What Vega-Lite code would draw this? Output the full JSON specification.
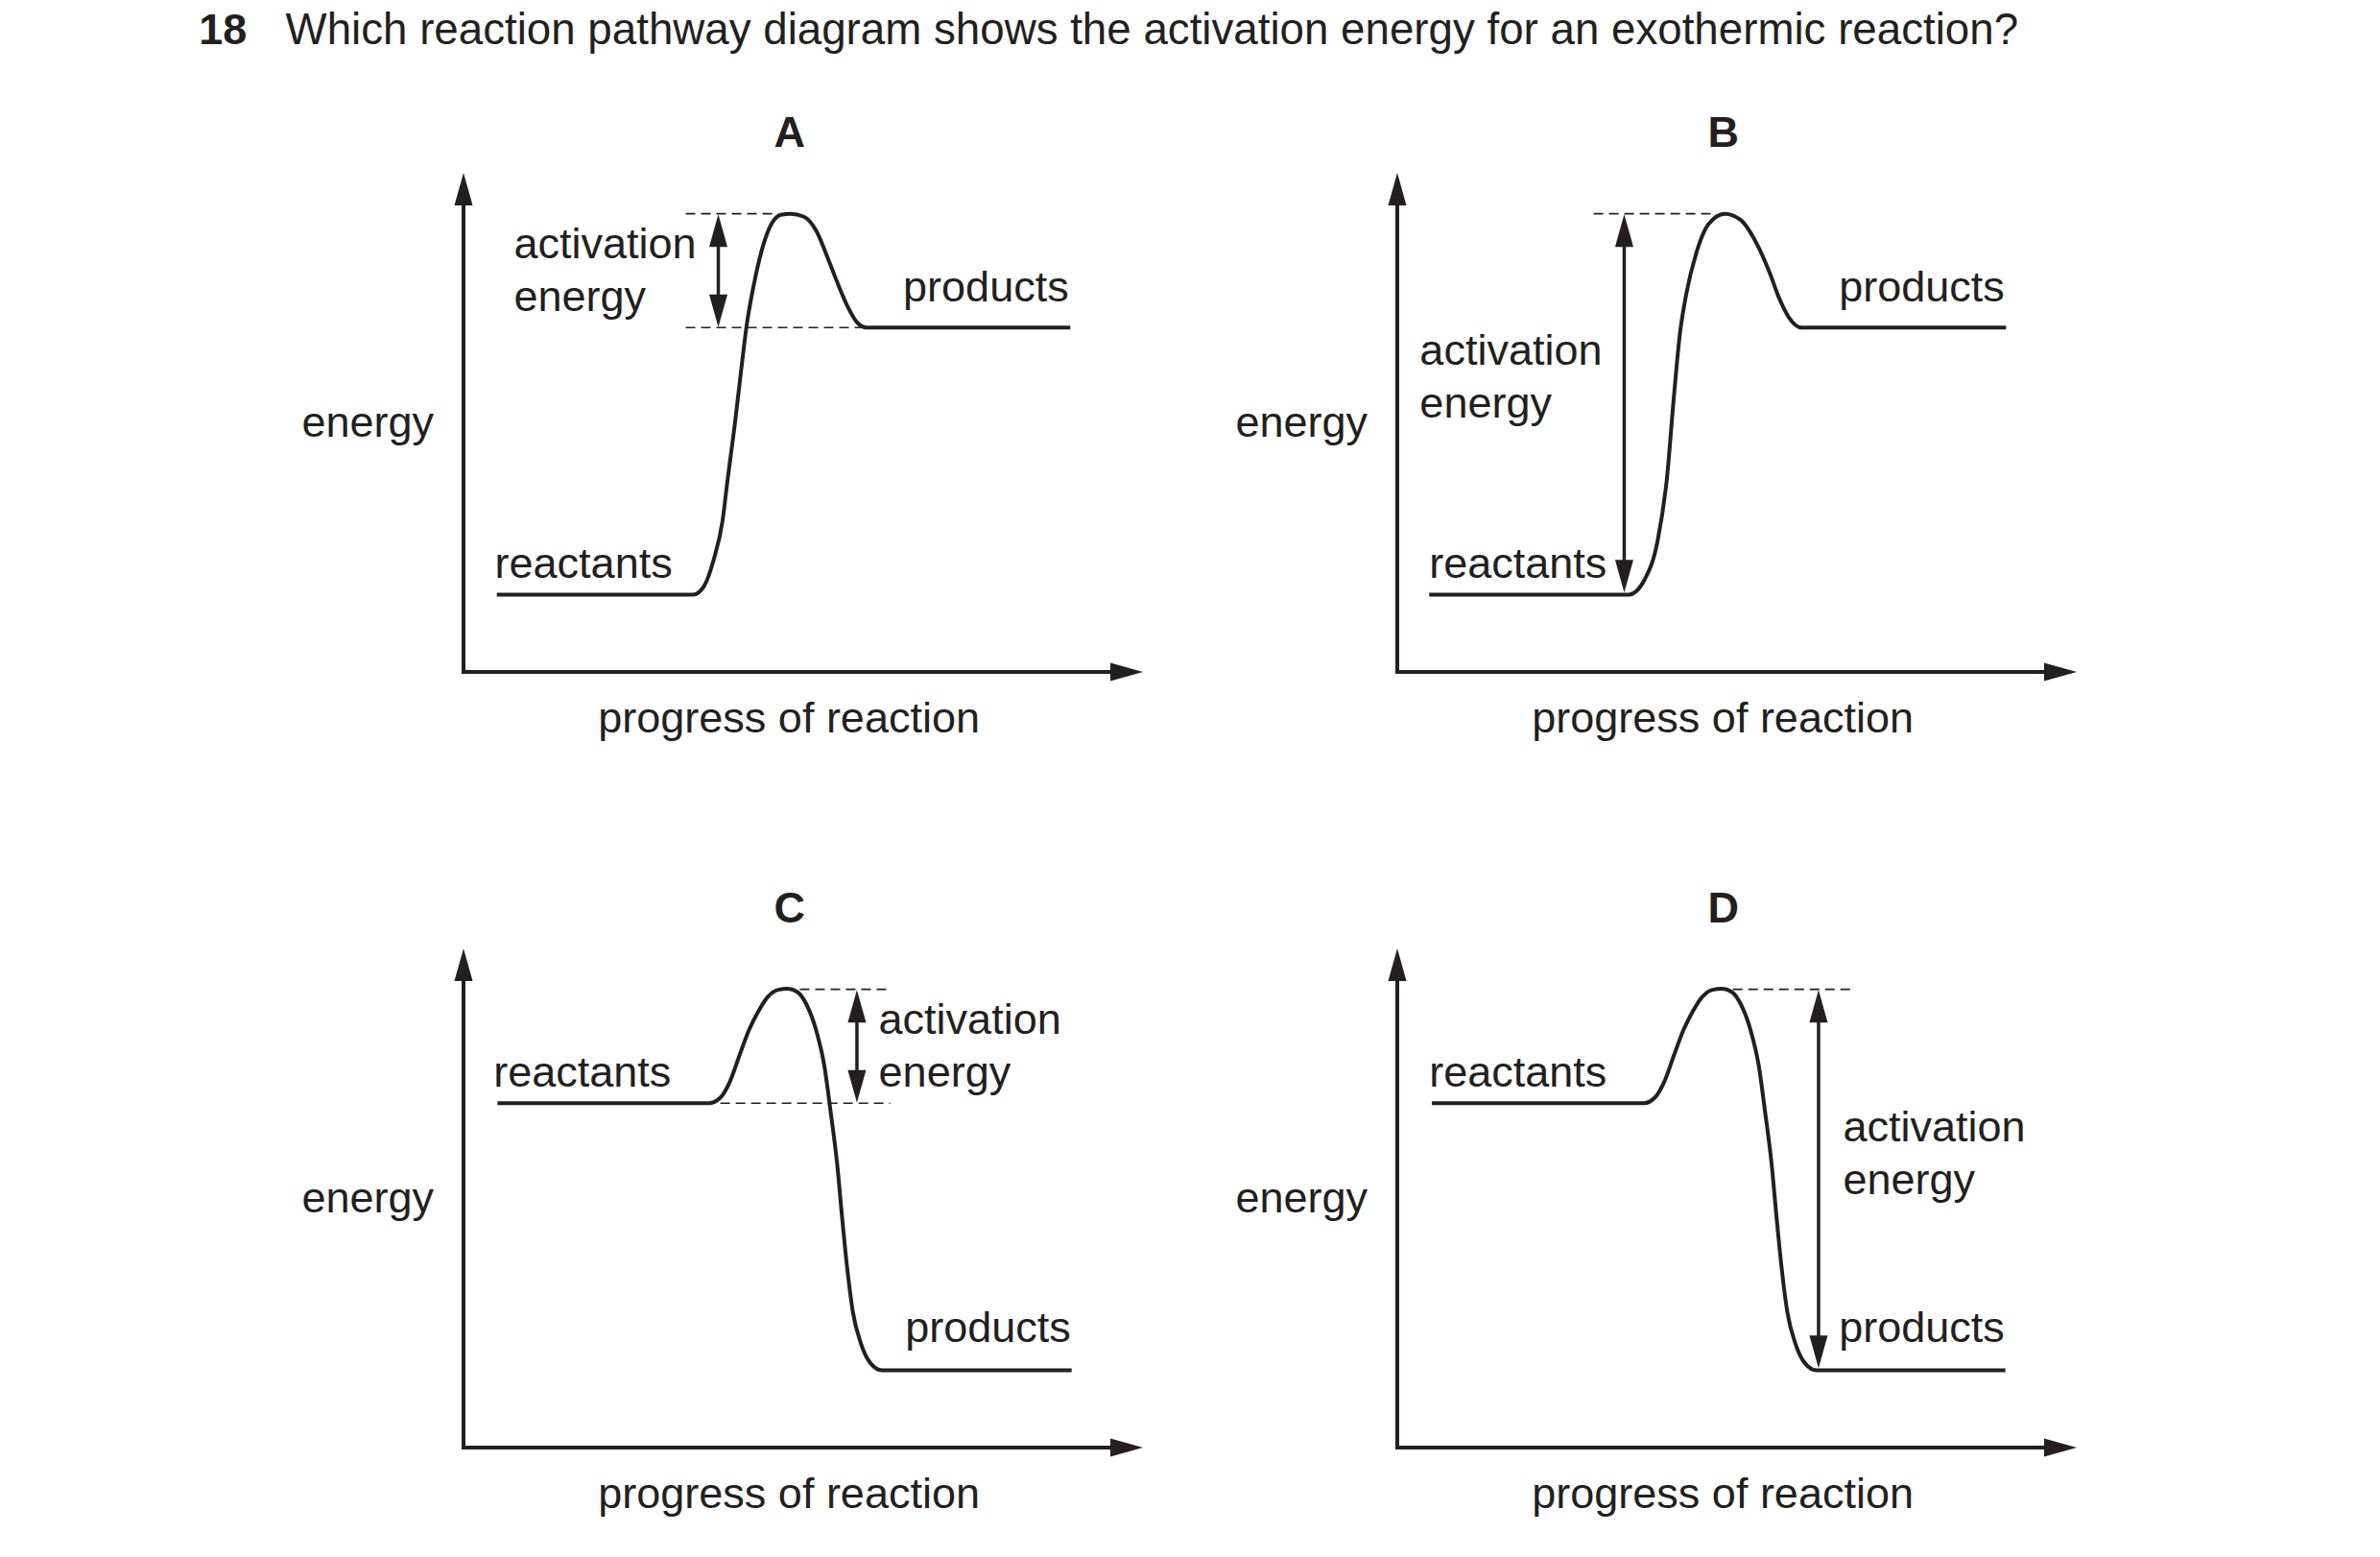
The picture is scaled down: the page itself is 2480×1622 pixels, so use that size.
{
  "$schema": "https://vega.github.io/schema/vega-lite/v6.json",
  "background": "white",
  "padding": {"left": 207, "top": 9, "right": 10, "bottom": 10},
  "bounds": "flush",
  "spacing": {"row": 288, "column": 265},
  "columns": 2,
  "data": {
    "values": [
      {"kind": "axis", "panel": "A", "p": 0, "e": 0, "p2": 0, "e2": 96},
      {"kind": "axis", "panel": "A", "p": 0, "e": 0, "p2": 97, "e2": 0},
      {"kind": "axis", "panel": "B", "p": 0, "e": 0, "p2": 0, "e2": 96},
      {"kind": "axis", "panel": "B", "p": 0, "e": 0, "p2": 97, "e2": 0},
      {"kind": "axis", "panel": "C", "p": 0, "e": 0, "p2": 0, "e2": 96},
      {"kind": "axis", "panel": "C", "p": 0, "e": 0, "p2": 97, "e2": 0},
      {"kind": "axis", "panel": "D", "p": 0, "e": 0, "p2": 0, "e2": 96},
      {"kind": "axis", "panel": "D", "p": 0, "e": 0, "p2": 97, "e2": 0},

      {"kind": "head", "panel": "A", "p": 0, "e": 100, "dir": "up"},
      {"kind": "head", "panel": "A", "p": 100, "e": 0, "dir": "right"},
      {"kind": "head", "panel": "B", "p": 0, "e": 100, "dir": "up"},
      {"kind": "head", "panel": "B", "p": 100, "e": 0, "dir": "right"},
      {"kind": "head", "panel": "C", "p": 0, "e": 100, "dir": "up"},
      {"kind": "head", "panel": "C", "p": 100, "e": 0, "dir": "right"},
      {"kind": "head", "panel": "D", "p": 0, "e": 100, "dir": "up"},
      {"kind": "head", "panel": "D", "p": 100, "e": 0, "dir": "right"},

      {"kind": "head", "panel": "A", "p": 37.5, "e": 91.7, "dir": "up"},
      {"kind": "head", "panel": "A", "p": 37.5, "e": 69.1, "dir": "down"},
      {"kind": "head", "panel": "B", "p": 33.4, "e": 91.7, "dir": "up"},
      {"kind": "head", "panel": "B", "p": 33.4, "e": 15.9, "dir": "down"},
      {"kind": "head", "panel": "C", "p": 57.9, "e": 91.7, "dir": "up"},
      {"kind": "head", "panel": "C", "p": 57.9, "e": 69.1, "dir": "down"},
      {"kind": "head", "panel": "D", "p": 62.0, "e": 91.7, "dir": "up"},
      {"kind": "head", "panel": "D", "p": 62.0, "e": 15.9, "dir": "down"},

      {"kind": "shaft", "panel": "A", "p": 37.5, "e": 72, "e2": 88.8},
      {"kind": "shaft", "panel": "B", "p": 33.4, "e": 19, "e2": 88.8},
      {"kind": "shaft", "panel": "C", "p": 57.9, "e": 72, "e2": 88.8},
      {"kind": "shaft", "panel": "D", "p": 62.0, "e": 19, "e2": 88.8},

      {"kind": "dash", "panel": "A", "p": 32.7, "e": 91.8, "p2": 46.3},
      {"kind": "dash", "panel": "A", "p": 32.7, "e": 69.0, "p2": 59.2},
      {"kind": "dash", "panel": "B", "p": 28.9, "e": 91.8, "p2": 46.8},
      {"kind": "dash", "panel": "C", "p": 49.5, "e": 91.8, "p2": 62.8},
      {"kind": "dash", "panel": "C", "p": 37.8, "e": 69.0, "p2": 62.8},
      {"kind": "dash", "panel": "D", "p": 49.4, "e": 91.8, "p2": 67.3},

      {"kind": "curve", "panel": "A", "p": 4.9, "e": 15.5},
      {"kind": "curve", "panel": "A", "p": 33.8, "e": 15.5},
      {"kind": "curve", "panel": "A", "p": 35.4, "e": 17.2},
      {"kind": "curve", "panel": "A", "p": 36.8, "e": 22.4},
      {"kind": "curve", "panel": "A", "p": 38.1, "e": 30.1},
      {"kind": "curve", "panel": "A", "p": 38.9, "e": 38.9},
      {"kind": "curve", "panel": "A", "p": 39.9, "e": 49.3},
      {"kind": "curve", "panel": "A", "p": 40.9, "e": 60.9},
      {"kind": "curve", "panel": "A", "p": 41.7, "e": 69.7},
      {"kind": "curve", "panel": "A", "p": 42.7, "e": 77.4},
      {"kind": "curve", "panel": "A", "p": 43.9, "e": 84.5},
      {"kind": "curve", "panel": "A", "p": 45.3, "e": 89.7},
      {"kind": "curve", "panel": "A", "p": 46.7, "e": 91.6},
      {"kind": "curve", "panel": "A", "p": 48.1, "e": 91.8},
      {"kind": "curve", "panel": "A", "p": 50.1, "e": 91.2},
      {"kind": "curve", "panel": "A", "p": 51.9, "e": 88.4},
      {"kind": "curve", "panel": "A", "p": 53.7, "e": 82.6},
      {"kind": "curve", "panel": "A", "p": 55.2, "e": 77.4},
      {"kind": "curve", "panel": "A", "p": 56.6, "e": 73.0},
      {"kind": "curve", "panel": "A", "p": 58.0, "e": 69.9},
      {"kind": "curve", "panel": "A", "p": 59.3, "e": 69.0},
      {"kind": "curve", "panel": "A", "p": 89.3, "e": 69.0},

      {"kind": "curve", "panel": "B", "p": 4.7, "e": 15.5},
      {"kind": "curve", "panel": "B", "p": 34.1, "e": 15.5},
      {"kind": "curve", "panel": "B", "p": 36.4, "e": 18.5},
      {"kind": "curve", "panel": "B", "p": 38.3, "e": 26.2},
      {"kind": "curve", "panel": "B", "p": 39.7, "e": 39.0},
      {"kind": "curve", "panel": "B", "p": 40.7, "e": 55.0},
      {"kind": "curve", "panel": "B", "p": 41.6, "e": 67.8},
      {"kind": "curve", "panel": "B", "p": 42.5, "e": 75.5},
      {"kind": "curve", "panel": "B", "p": 44.0, "e": 83.9},
      {"kind": "curve", "panel": "B", "p": 45.8, "e": 89.7},
      {"kind": "curve", "panel": "B", "p": 48.2, "e": 91.8},
      {"kind": "curve", "panel": "B", "p": 50.5, "e": 90.6},
      {"kind": "curve", "panel": "B", "p": 52.9, "e": 85.8},
      {"kind": "curve", "panel": "B", "p": 54.8, "e": 80.0},
      {"kind": "curve", "panel": "B", "p": 56.2, "e": 74.9},
      {"kind": "curve", "panel": "B", "p": 57.6, "e": 71.1},
      {"kind": "curve", "panel": "B", "p": 59.5, "e": 69.0},
      {"kind": "curve", "panel": "B", "p": 89.6, "e": 69.0},

      {"kind": "curve", "panel": "C", "p": 5.0, "e": 69.0},
      {"kind": "curve", "panel": "C", "p": 36.1, "e": 69.0},
      {"kind": "curve", "panel": "C", "p": 37.8, "e": 70.1},
      {"kind": "curve", "panel": "C", "p": 39.2, "e": 73.3},
      {"kind": "curve", "panel": "C", "p": 40.6, "e": 78.5},
      {"kind": "curve", "panel": "C", "p": 42.0, "e": 83.6},
      {"kind": "curve", "panel": "C", "p": 43.4, "e": 87.4},
      {"kind": "curve", "panel": "C", "p": 44.8, "e": 90.3},
      {"kind": "curve", "panel": "C", "p": 46.3, "e": 91.7},
      {"kind": "curve", "panel": "C", "p": 47.7, "e": 91.9},
      {"kind": "curve", "panel": "C", "p": 49.1, "e": 91.3},
      {"kind": "curve", "panel": "C", "p": 50.5, "e": 88.7},
      {"kind": "curve", "panel": "C", "p": 51.9, "e": 83.6},
      {"kind": "curve", "panel": "C", "p": 53.1, "e": 76.5},
      {"kind": "curve", "panel": "C", "p": 54.0, "e": 67.6},
      {"kind": "curve", "panel": "C", "p": 55.0, "e": 56.7},
      {"kind": "curve", "panel": "C", "p": 55.7, "e": 46.4},
      {"kind": "curve", "panel": "C", "p": 56.4, "e": 36.8},
      {"kind": "curve", "panel": "C", "p": 57.3, "e": 27.2},
      {"kind": "curve", "panel": "C", "p": 58.5, "e": 20.8},
      {"kind": "curve", "panel": "C", "p": 59.9, "e": 16.9},
      {"kind": "curve", "panel": "C", "p": 61.6, "e": 15.5},
      {"kind": "curve", "panel": "C", "p": 89.5, "e": 15.5},

      {"kind": "curve", "panel": "D", "p": 5.1, "e": 69.0},
      {"kind": "curve", "panel": "D", "p": 36.3, "e": 69.0},
      {"kind": "curve", "panel": "D", "p": 37.9, "e": 70.1},
      {"kind": "curve", "panel": "D", "p": 39.3, "e": 73.3},
      {"kind": "curve", "panel": "D", "p": 40.7, "e": 78.5},
      {"kind": "curve", "panel": "D", "p": 42.1, "e": 83.6},
      {"kind": "curve", "panel": "D", "p": 43.5, "e": 87.4},
      {"kind": "curve", "panel": "D", "p": 44.9, "e": 90.3},
      {"kind": "curve", "panel": "D", "p": 46.4, "e": 91.7},
      {"kind": "curve", "panel": "D", "p": 47.8, "e": 91.9},
      {"kind": "curve", "panel": "D", "p": 49.2, "e": 91.3},
      {"kind": "curve", "panel": "D", "p": 50.6, "e": 88.7},
      {"kind": "curve", "panel": "D", "p": 52.0, "e": 83.6},
      {"kind": "curve", "panel": "D", "p": 53.2, "e": 76.5},
      {"kind": "curve", "panel": "D", "p": 54.1, "e": 67.6},
      {"kind": "curve", "panel": "D", "p": 55.1, "e": 56.7},
      {"kind": "curve", "panel": "D", "p": 55.8, "e": 46.4},
      {"kind": "curve", "panel": "D", "p": 56.5, "e": 36.8},
      {"kind": "curve", "panel": "D", "p": 57.4, "e": 27.2},
      {"kind": "curve", "panel": "D", "p": 58.6, "e": 20.8},
      {"kind": "curve", "panel": "D", "p": 60.0, "e": 16.9},
      {"kind": "curve", "panel": "D", "p": 61.7, "e": 15.5},
      {"kind": "curve", "panel": "D", "p": 89.5, "e": 15.5},

      {"kind": "text", "panel": "A", "p": 7.4, "e": 82.8, "t": "activation\nenergy"},
      {"kind": "text", "panel": "A", "p": 4.6, "e": 18.8, "t": "reactants"},
      {"kind": "text", "panel": "A", "p": 64.7, "e": 74.3, "t": "products"},
      {"kind": "text", "panel": "A", "p": -23.8, "e": 47.2, "t": "energy"},
      {"kind": "text", "panel": "B", "p": 3.3, "e": 61.6, "t": "activation\nenergy"},
      {"kind": "text", "panel": "B", "p": 4.7, "e": 18.8, "t": "reactants"},
      {"kind": "text", "panel": "B", "p": 65.0, "e": 74.3, "t": "products"},
      {"kind": "text", "panel": "B", "p": -23.8, "e": 47.2, "t": "energy"},
      {"kind": "text", "panel": "C", "p": 61.1, "e": 82.8, "t": "activation\nenergy"},
      {"kind": "text", "panel": "C", "p": 4.4, "e": 72.4, "t": "reactants"},
      {"kind": "text", "panel": "C", "p": 65.0, "e": 21.1, "t": "products"},
      {"kind": "text", "panel": "C", "p": -23.8, "e": 47.2, "t": "energy"},
      {"kind": "text", "panel": "D", "p": 65.6, "e": 61.4, "t": "activation\nenergy"},
      {"kind": "text", "panel": "D", "p": 4.7, "e": 72.4, "t": "reactants"},
      {"kind": "text", "panel": "D", "p": 65.0, "e": 21.1, "t": "products"},
      {"kind": "text", "panel": "D", "p": -23.8, "e": 47.2, "t": "energy"},

      {"kind": "xlabel", "panel": "A", "p": 47.9, "e": -12.2, "t": "progress of reaction"},
      {"kind": "xlabel", "panel": "B", "p": 47.9, "e": -12.2, "t": "progress of reaction"},
      {"kind": "xlabel", "panel": "C", "p": 47.9, "e": -12.2, "t": "progress of reaction"},
      {"kind": "xlabel", "panel": "D", "p": 47.9, "e": -12.2, "t": "progress of reaction"},

      {"kind": "bold", "panel": "A", "p": 48.0, "e": 105.15, "t": "A"},
      {"kind": "bold", "panel": "B", "p": 48.0, "e": 105.15, "t": "B"},
      {"kind": "bold", "panel": "C", "p": 48.0, "e": 105.15, "t": "C"},
      {"kind": "bold", "panel": "D", "p": 48.0, "e": 105.15, "t": "D"},
      {"kind": "bold", "panel": "A", "p": -35.4, "e": 125.7, "t": "18"},

      {"kind": "title", "panel": "A", "p": -26.2, "e": 125.7, "t": "Which reaction pathway diagram shows the activation energy for an exothermic reaction?"}
    ]
  },
  "facet": {
    "field": "panel",
    "type": "nominal",
    "title": null,
    "header": {"title": null, "labels": false, "labelOrient": "bottom", "labelFontSize": 1, "labelColor": "transparent", "labelPadding": 0}
  },
  "spec": {
    "width": 708,
    "height": 520,
    "encoding": {
      "x": {"field": "p", "type": "quantitative", "scale": {"domain": [0, 100], "nice": false, "zero": false}, "axis": null},
      "y": {"field": "e", "type": "quantitative", "scale": {"domain": [0, 100], "nice": false, "zero": false}, "axis": null}
    },
    "layer": [
      {
        "transform": [{"filter": "datum.kind === 'axis'"}],
        "mark": {"type": "rule", "strokeWidth": 4, "strokeCap": "square", "color": "#231f20"},
        "encoding": {"x2": {"field": "p2"}, "y2": {"field": "e2"}}
      },
      {
        "transform": [{"filter": "datum.kind === 'dash'"}],
        "mark": {"type": "rule", "strokeWidth": 1.6, "strokeDash": [10, 6], "color": "#231f20"},
        "encoding": {"x2": {"field": "p2"}}
      },
      {
        "transform": [{"filter": "datum.kind === 'shaft'"}],
        "mark": {"type": "rule", "strokeWidth": 3.5, "color": "#231f20"},
        "encoding": {"y2": {"field": "e2"}}
      },
      {
        "transform": [{"filter": "datum.kind === 'curve'"}],
        "mark": {"type": "line", "strokeWidth": 4, "interpolate": "monotone", "color": "#231f20"}
      },
      {
        "transform": [{"filter": "datum.kind === 'head'"}],
        "mark": {"type": "point", "filled": true, "opacity": 1, "size": 4624, "color": "#231f20", "strokeWidth": 0},
        "encoding": {
          "shape": {
            "field": "dir",
            "type": "nominal",
            "scale": {
              "domain": ["up", "down", "right"],
              "range": ["M0,0L0.28,1L-0.28,1Z", "M0,0L0.28,-1L-0.28,-1Z", "M0,0L-1,-0.28L-1,0.28Z"]
            },
            "legend": null
          }
        }
      },
      {
        "transform": [{"filter": "datum.kind === 'text'"}],
        "mark": {"type": "text", "align": "left", "baseline": "alphabetic", "font": "Liberation Sans", "fontSize": 45, "lineBreak": "\n", "lineHeight": 55, "color": "#231f20"},
        "encoding": {"text": {"field": "t"}}
      },
      {
        "transform": [{"filter": "datum.kind === 'xlabel'"}],
        "mark": {"type": "text", "align": "center", "baseline": "alphabetic", "font": "Liberation Sans", "fontSize": 45, "color": "#231f20"},
        "encoding": {"text": {"field": "t"}}
      },
      {
        "transform": [{"filter": "datum.kind === 'bold'"}],
        "mark": {"type": "text", "align": "center", "baseline": "alphabetic", "font": "Liberation Sans", "fontSize": 45, "fontWeight": "bold", "color": "#231f20"},
        "encoding": {"text": {"field": "t"}}
      },
      {
        "transform": [{"filter": "datum.kind === 'title'"}],
        "mark": {"type": "text", "align": "left", "baseline": "alphabetic", "font": "Liberation Sans", "fontSize": 45.7, "color": "#231f20"},
        "encoding": {"text": {"field": "t"}}
      }
    ]
  },
  "config": {
    "view": {"stroke": null},
    "header": {"labels": false, "labelOrient": "bottom", "labelFontSize": 1, "labelColor": "transparent", "labelPadding": 0},
    "headerFacet": {"labels": false, "labelOrient": "bottom", "labelFontSize": 1, "labelColor": "transparent", "labelPadding": 0}
  }
}
